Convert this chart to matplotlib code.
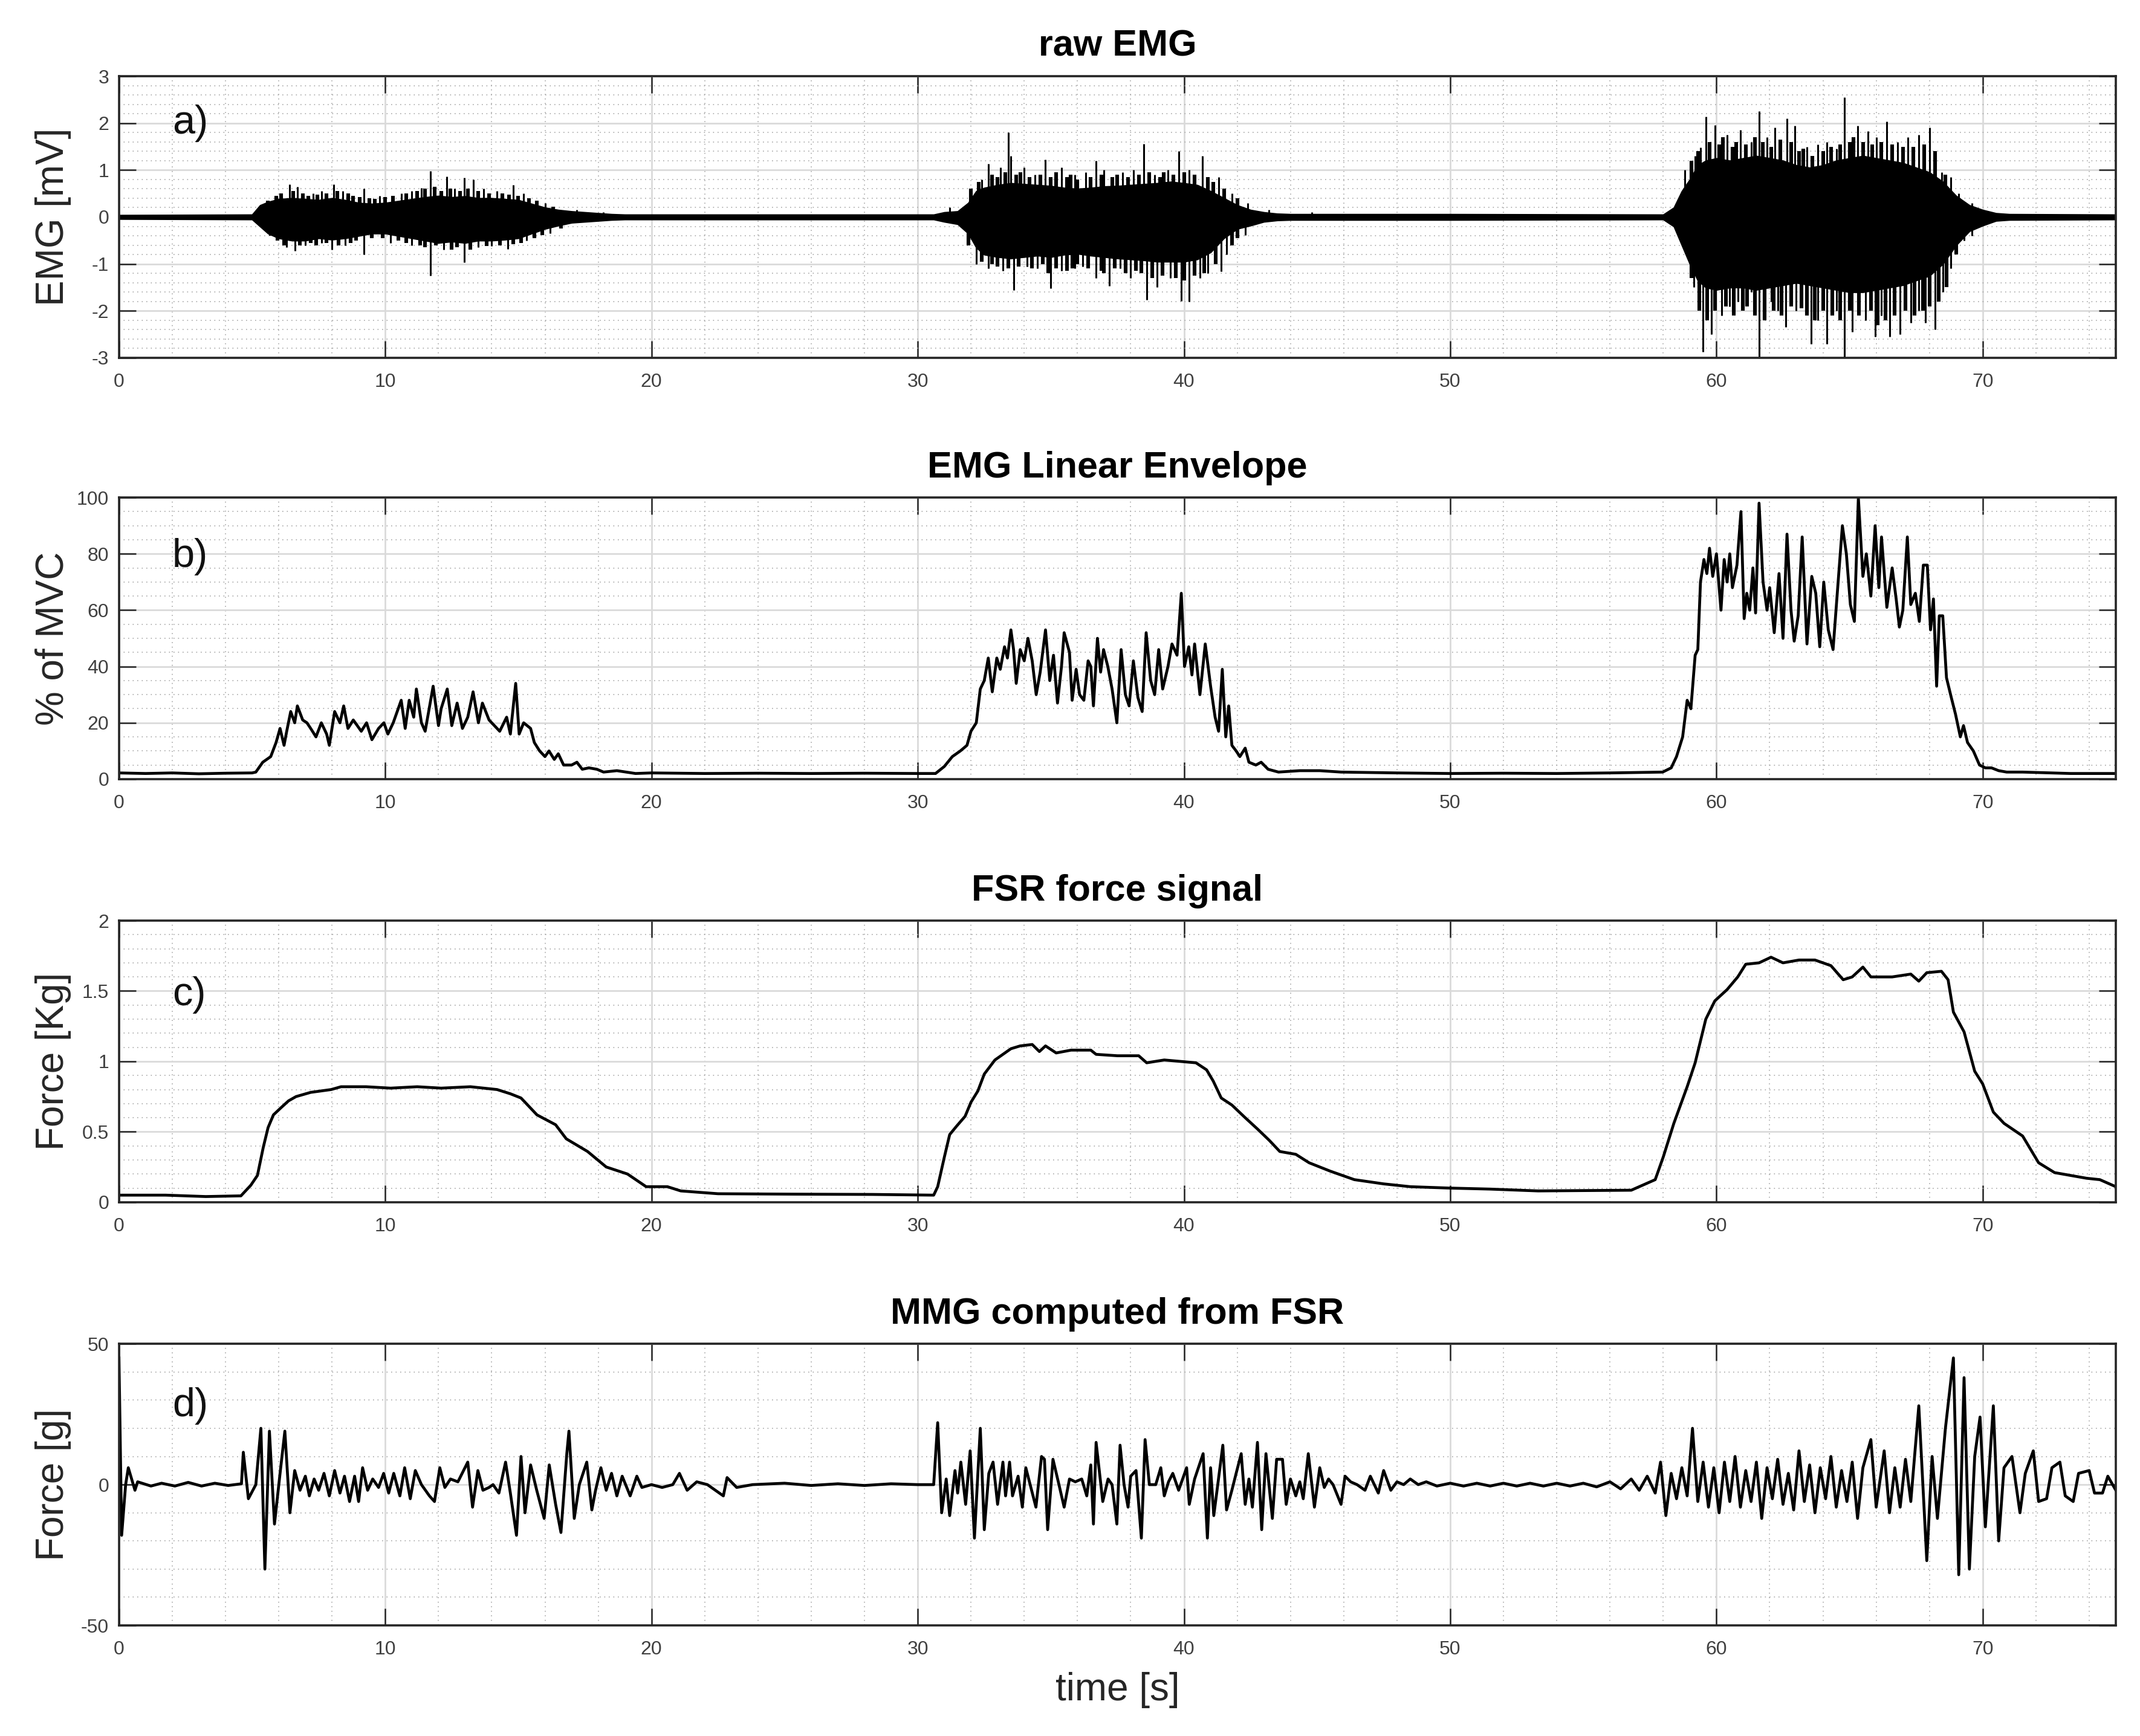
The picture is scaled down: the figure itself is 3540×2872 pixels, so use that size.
import matplotlib
matplotlib.use('Agg')
import matplotlib.pyplot as plt
from matplotlib.ticker import MultipleLocator, FuncFormatter

plt.rcParams['font.family'] = ['Liberation Sans', 'DejaVu Sans']
plt.rcParams['axes.unicode_minus'] = False

# ---- a) raw EMG: dense band (upper / lower excursion) ----
emg_t = [0, 5.0, 5.3, 5.6, 6.0, 6.5, 7.0, 7.5, 8.0, 8.5, 9.0, 9.5, 10.0, 10.5, 11.0,
         11.5, 12.0, 12.5, 13.0, 13.5, 14.0, 14.5, 15.0, 15.5, 16.0, 16.5, 17.0, 17.5,
         18.0, 18.5, 19.0, 25.0, 30.6, 31.0, 31.5, 31.9, 32.2, 32.5, 33.0, 33.5, 34.0,
         34.5, 35.0, 35.5, 36.0, 36.5, 37.0, 37.5, 38.0, 38.5, 39.0, 39.5, 40.0, 40.5,
         41.0, 41.5, 42.0, 42.5, 43.0, 43.5, 44.0, 50.0, 58.0, 58.4, 58.7, 59.0, 59.3,
         59.6, 60.0, 60.5, 61.0, 61.5, 62.0, 62.5, 63.0, 63.5, 64.0, 64.5, 65.0, 65.5,
         66.0, 66.5, 67.0, 67.5, 68.0, 68.5, 69.0, 69.5, 70.0, 70.5, 71.0, 75.0]
emg_up = [0.04, 0.05, 0.25, 0.32, 0.38, 0.40, 0.38, 0.36, 0.40, 0.36, 0.30, 0.28, 0.30,
          0.34, 0.38, 0.42, 0.45, 0.42, 0.44, 0.40, 0.40, 0.38, 0.36, 0.28, 0.20, 0.15,
          0.12, 0.10, 0.08, 0.06, 0.05, 0.05, 0.05, 0.10, 0.12, 0.30, 0.55, 0.62, 0.68,
          0.72, 0.70, 0.68, 0.66, 0.62, 0.60, 0.62, 0.65, 0.66, 0.68, 0.70, 0.72, 0.75,
          0.72, 0.68, 0.55, 0.40, 0.25, 0.15, 0.10, 0.07, 0.06, 0.06, 0.05, 0.20, 0.55,
          0.80, 1.10, 1.20, 1.25, 1.20, 1.25, 1.30, 1.25, 1.20, 1.10, 1.05, 1.10, 1.20,
          1.25, 1.30, 1.25, 1.20, 1.15, 1.05, 0.95, 0.75, 0.45, 0.25, 0.15, 0.08, 0.06, 0.05]
emg_lo = [-0.04, -0.05, -0.20, -0.35, -0.45, -0.50, -0.50, -0.45, -0.48, -0.45, -0.40,
          -0.35, -0.35, -0.40, -0.45, -0.50, -0.55, -0.52, -0.55, -0.50, -0.50, -0.48,
          -0.45, -0.35, -0.25, -0.18, -0.12, -0.10, -0.08, -0.06, -0.05, -0.05, -0.05,
          -0.10, -0.15, -0.35, -0.65, -0.80, -0.85, -0.88, -0.85, -0.82, -0.85, -0.80,
          -0.78, -0.82, -0.85, -0.88, -0.90, -0.92, -0.95, -0.95, -0.95, -0.90, -0.75,
          -0.45, -0.25, -0.18, -0.10, -0.07, -0.06, -0.06, -0.05, -0.20, -0.60, -1.00,
          -1.35, -1.50, -1.55, -1.50, -1.50, -1.55, -1.50, -1.45, -1.40, -1.45, -1.50,
          -1.55, -1.60, -1.60, -1.55, -1.50, -1.45, -1.35, -1.25, -1.00, -0.60, -0.30,
          -0.18, -0.08, -0.06, -0.05]

# tall spikes sticking out of the band
spk_up_t = [6.4, 6.7, 7.3, 7.6, 8.06, 8.4, 9.2, 9.8, 10.6, 11.0, 11.36, 11.7, 12.3, 12.6,
            12.96, 13.3, 13.7, 14.2, 14.8, 15.2, 16.0, 17.2, 18.2,
            31.2, 32.4, 32.66, 33.1, 33.4, 33.5, 34.0, 34.4, 34.8, 35.4, 35.9, 36.3, 36.7,
            37.0, 37.7, 38.1, 38.5, 38.9, 39.4, 39.8, 40.2, 40.7, 41.3, 41.8, 42.4, 43.2,
            44.8, 58.6, 58.8, 59.2, 59.4, 59.6, 59.94, 60.4, 60.9, 61.3, 61.6, 61.9, 62.2,
            62.65, 62.95, 63.4, 63.8, 64.15, 64.5, 64.8, 65.3, 65.7, 66.0, 66.4, 66.8, 67.2,
            67.6, 68.0, 68.45, 68.8, 69.1, 69.6, 70.0]
spk_up_v = [0.70, 0.65, 0.50, 0.55, 0.70, 0.55, 0.60, 0.45, 0.50, 0.55, 0.62, 0.98, 0.86,
            0.60, 0.84, 0.80, 0.60, 0.55, 0.68, 0.50, 0.30, 0.15, 0.10,
            0.20, 0.80, 1.13, 1.05, 1.80, 1.30, 1.05, 0.90, 1.22, 1.05, 0.90, 0.95, 1.20,
            1.00, 0.95, 1.00, 1.56, 0.90, 1.00, 1.40, 1.00, 1.30, 0.85, 0.50, 0.30, 0.15,
            0.10, 0.40, 1.00, 1.30, 1.48, 2.14, 1.96, 1.75, 1.85, 1.60, 2.25, 1.70, 1.90,
            2.10, 1.95, 1.50, 1.55, 1.60, 1.45, 2.55, 1.95, 1.83, 1.70, 2.04, 1.60, 1.70,
            1.75, 1.90, 0.95, 0.85, 0.50, 0.30, 0.15]
spk_dn_t = [6.3, 6.6, 7.0, 7.6, 8.0, 8.5, 9.2, 10.2, 11.0, 11.7, 12.2, 12.96, 13.5, 14.0,
            14.6, 15.3, 16.2,
            32.2, 32.66, 33.2, 33.6, 34.1, 34.5, 35.0, 35.4, 35.9, 36.2, 36.7, 37.2, 37.6,
            38.0, 38.6, 39.0, 39.5, 39.9, 40.2, 40.6, 40.9, 41.4, 41.6, 42.3,
            58.9, 59.15, 59.5, 59.8, 60.2, 60.5, 60.8, 61.3, 61.6, 62.05, 62.3, 62.6, 63.0,
            63.55, 63.8, 64.15, 64.5, 64.8, 65.1, 65.6, 65.96, 66.2, 66.5, 66.9, 67.3, 67.6,
            67.85, 68.2, 68.5, 68.8, 69.3, 69.6]
spk_dn_v = [-0.65, -0.72, -0.60, -0.55, -0.70, -0.60, -0.80, -0.55, -0.60, -1.25, -0.70,
            -0.96, -0.65, -0.62, -0.68, -0.50, -0.35,
            -1.00, -1.09, -1.15, -1.56, -1.05, -1.10, -1.52, -1.15, -1.10, -1.05, -1.30,
            -1.47, -1.10, -1.30, -1.77, -1.50, -1.30, -1.79, -1.80, -1.30, -1.20, -1.16,
            -0.80, -0.38,
            -0.80, -1.49, -2.87, -2.50, -2.10, -1.90, -1.80, -1.60, -2.98, -1.80, -2.00,
            -2.35, -2.00, -2.70, -2.20, -2.70, -2.00, -3.00, -2.45, -2.20, -2.55, -2.10,
            -2.55, -2.50, -2.25, -2.00, -2.25, -2.40, -1.60, -1.10, -0.50, -0.40]

# medium spikes that make the ragged edge of the band
mid_up_t = [5.6, 5.9, 6.1, 6.55, 6.9, 7.1, 7.45, 7.8, 8.2, 8.6, 8.8, 9.05, 9.4, 9.6, 10.0,
            10.3, 10.8, 11.2, 11.5, 11.85, 12.1, 12.45, 12.8, 13.1, 13.5, 13.9, 14.4, 14.65,
            15.0, 15.4, 15.7, 16.3,
            32.0, 32.3, 32.8, 33.0, 33.3, 33.7, 33.85, 34.2, 34.6, 35.0, 35.2, 35.6, 35.75,
            36.0, 36.5, 36.9, 37.3, 37.5, 37.9, 38.3, 38.7, 39.1, 39.25, 39.6, 40.0, 40.4,
            40.9, 41.1, 41.5, 42.0,
            59.05, 59.3, 59.75, 60.1, 60.25, 60.6, 60.75, 61.1, 61.45, 61.75, 62.05, 62.4,
            62.8, 63.1, 63.25, 63.6, 64.0, 64.3, 64.65, 65.0, 65.15, 65.5, 65.85, 66.2,
            66.6, 67.0, 67.4, 67.8, 68.2, 68.6]
mid_up_v = [0.35, 0.45, 0.50, 0.55, 0.50, 0.45, 0.48, 0.50, 0.55, 0.50, 0.45, 0.42, 0.40,
            0.38, 0.42, 0.45, 0.50, 0.55, 0.60, 0.65, 0.55, 0.60, 0.55, 0.60, 0.55, 0.50,
            0.50, 0.48, 0.45, 0.40, 0.35, 0.22,
            0.60, 0.75, 0.90, 0.85, 0.95, 0.90, 0.95, 0.85, 0.90, 0.85, 0.95, 0.85, 0.90,
            0.80, 0.85, 0.90, 0.85, 0.90, 0.85, 0.90, 0.95, 0.85, 0.95, 0.90, 0.95, 0.90,
            0.85, 0.75, 0.60, 0.40,
            1.20, 1.40, 1.60, 1.55, 1.70, 1.50, 1.60, 1.55, 1.70, 1.60, 1.50, 1.65, 1.60,
            1.40, 1.45, 1.30, 1.40, 1.50, 1.55, 1.60, 1.70, 1.60, 1.55, 1.60, 1.55, 1.50,
            1.50, 1.55, 1.40, 0.90]
mid_dn_t = [5.7, 5.95, 6.2, 6.8, 7.2, 7.4, 7.8, 8.25, 8.7, 8.9, 9.5, 9.9, 10.5, 10.8, 11.3,
            11.5, 11.9, 12.5, 12.7, 13.2, 13.8, 14.3, 14.8, 15.1, 15.6, 15.9, 16.6,
            31.9, 32.4, 32.8, 33.0, 33.4, 33.8, 34.3, 34.7, 34.9, 35.2, 35.6, 35.8, 36.0,
            36.4, 36.9, 37.0, 37.4, 37.8, 38.2, 38.4, 38.8, 39.2, 39.7, 40.0, 40.4, 40.75,
            41.2, 41.8, 42.0,
            59.05, 59.35, 59.65, 59.95, 60.35, 60.65, 61.0, 61.15, 61.45, 61.8, 62.15,
            62.45, 62.8, 63.2, 63.4, 63.7, 64.0, 64.35, 64.65, 65.0, 65.35, 65.8, 66.05,
            66.35, 66.7, 67.1, 67.45, 67.75, 68.0, 68.35, 68.65, 69.0]
mid_dn_v = [-0.40, -0.50, -0.60, -0.60, -0.55, -0.60, -0.55, -0.60, -0.55, -0.50, -0.45,
            -0.45, -0.50, -0.55, -0.60, -0.65, -0.60, -0.70, -0.65, -0.70, -0.62, -0.60,
            -0.58, -0.55, -0.45, -0.38, -0.25,
            -0.60, -0.95, -1.00, -1.05, -1.10, -1.05, -1.10, -1.00, -1.20, -1.10, -1.15,
            -1.10, -1.00, -1.10, -1.15, -1.20, -1.10, -1.20, -1.15, -1.20, -1.30, -1.25,
            -1.30, -1.35, -1.25, -1.20, -1.00, -0.60, -0.45,
            -1.30, -2.00, -2.20, -2.00, -1.90, -2.10, -2.00, -1.90, -2.10, -2.20, -2.00,
            -2.10, -1.90, -1.95, -2.10, -2.20, -2.00, -2.10, -2.20, -2.00, -2.10, -2.00,
            -2.30, -2.20, -2.10, -2.00, -2.10, -2.00, -1.90, -1.80, -1.50, -0.80]

# ---- b) EMG linear envelope [% of MVC] ----
env_t = [0, 1, 2, 3, 4, 5.0, 5.14, 5.4, 5.7, 5.9, 6.05, 6.2, 6.3, 6.45, 6.6, 6.7, 6.9,
         7.06, 7.2, 7.4, 7.6, 7.8, 7.9, 8.1, 8.3, 8.44, 8.6, 8.8, 9.1, 9.3, 9.5, 9.75, 9.95,
         10.1, 10.3, 10.6, 10.75, 10.9, 11.07, 11.17, 11.36, 11.5, 11.8, 12.0, 12.1, 12.33,
         12.5, 12.7, 12.9, 13.1, 13.3, 13.5, 13.65, 13.9, 14.1, 14.3, 14.56, 14.7, 14.9,
         15.03, 15.2, 15.46, 15.6, 15.8, 16.0, 16.15, 16.35, 16.5, 16.7, 17.0, 17.2, 17.4,
         17.65, 17.95, 18.2, 18.7, 19.4, 20, 22, 24, 26, 28, 30, 30.67, 31.0, 31.3, 31.6,
         31.85, 32.0, 32.2, 32.35, 32.5, 32.65, 32.8, 32.97, 33.1, 33.26, 33.37, 33.5, 33.6,
         33.7, 33.85, 34.0, 34.14, 34.3, 34.45, 34.6, 34.8, 34.96, 35.1, 35.25, 35.4, 35.5,
         35.7, 35.8, 35.95, 36.08, 36.24, 36.4, 36.5, 36.6, 36.75, 36.87, 36.98, 37.14,
         37.3, 37.48, 37.64, 37.8, 37.94, 38.1, 38.27, 38.43, 38.58, 38.75, 38.9, 39.05,
         39.2, 39.4, 39.55, 39.74, 39.9, 40.02, 40.18, 40.3, 40.4, 40.6, 40.8, 41.0, 41.17,
         41.3, 41.44, 41.57, 41.68, 41.8, 41.96, 42.1, 42.3, 42.44, 42.7, 42.9, 43.16,
         43.55, 44.35, 45.1, 45.9, 48, 50, 52, 54, 56, 57.98, 58.3, 58.5, 58.73, 58.9,
         59.04, 59.2, 59.3, 59.4, 59.53, 59.64, 59.74, 59.86, 60.0, 60.17, 60.29, 60.4,
         60.5, 60.6, 60.77, 60.92, 61.04, 61.14, 61.25, 61.37, 61.47, 61.6, 61.75, 61.9,
         62.0, 62.17, 62.35, 62.5, 62.65, 62.8, 62.92, 63.07, 63.22, 63.4, 63.58, 63.73,
         63.88, 64.03, 64.2, 64.38, 64.53, 64.73, 64.88, 65.03, 65.18, 65.33, 65.5, 65.63,
         65.8, 65.96, 66.1, 66.2, 66.4, 66.6, 66.75, 66.87, 67.0, 67.17, 67.3, 67.47,
         67.62, 67.77, 67.92, 68.04, 68.15, 68.27, 68.37, 68.5, 68.64, 68.82, 68.98, 69.16,
         69.28, 69.43, 69.65, 69.88, 70.1, 70.33, 70.6, 70.9, 71.5, 73.3, 75]
env_v = [2.2, 2.0, 2.2, 1.9, 2.1, 2.2, 2.5, 6, 8, 13, 18, 12, 17, 24, 20, 26, 21,
         20, 18, 15, 20, 16, 12, 24, 20, 26, 18, 21, 17, 20, 14, 18, 20,
         16, 20, 28, 18, 28, 22, 32, 20, 17, 33, 19, 25, 32,
         19, 27, 18, 22, 31, 20, 27, 21, 19, 17, 22, 16, 34,
         16, 20, 18, 13, 10, 8, 10, 7, 9, 5, 5, 6, 3.5,
         4, 3.5, 2.5, 3, 2, 2.2, 2.0, 2.1, 2.0, 2.1, 2.0, 2.0, 4.5, 8, 10,
         12, 17, 20, 32, 35, 43, 31, 43, 39, 47, 43, 53, 46,
         34, 46, 42, 50, 42, 30, 38, 53, 35, 44, 27, 40, 52,
         45, 28, 39, 30, 28, 42, 40, 26, 50, 38, 46, 40,
         32, 20, 46, 30, 26, 42, 29, 24, 52, 35, 30, 46,
         32, 40, 48, 44, 66, 40, 47, 37, 48, 30, 48, 33, 22,
         17, 39, 15, 26, 12, 10, 8, 11, 6, 5, 6, 3.5,
         2.5, 3, 3, 2.5, 2.2, 2.0, 2.1, 2.0, 2.2, 2.5, 4, 8, 15, 28,
         25, 44, 46, 70, 78, 73, 82, 72, 80, 60, 78, 70,
         80, 68, 76, 95, 57, 66, 60, 75, 59, 98, 70, 60,
         68, 52, 73, 50, 87, 60, 49, 58, 86, 48, 72, 66,
         47, 70, 53, 46, 65, 90, 80, 62, 56, 100, 72, 80,
         65, 90, 68, 86, 61, 75, 64, 54, 60, 86, 62, 66,
         56, 76, 76, 53, 64, 33, 58, 58, 36, 29, 23, 15,
         19, 13, 10, 5, 4, 4, 3, 2.5, 2.5, 2.0, 2.0]

# ---- c) FSR force signal [Kg] ----
force_t = [0, 1.75, 3.26, 4.58, 4.95, 5.2, 5.42, 5.6, 5.8, 6.08, 6.37, 6.65, 7.2, 7.97,
           8.34, 9.28, 10.2, 11.2, 12.1, 13.2, 14.2, 14.7, 15.1, 15.7, 16.4, 16.8, 17.6,
           18.3, 19.1, 19.8, 20.6, 21.1, 22.5, 25.3, 28.3, 30.6, 30.75, 31.0, 31.2, 31.46,
           31.78, 32.0, 32.26, 32.5, 32.9, 33.2, 33.5, 33.85, 34.3, 34.57, 34.8, 35.2,
           35.76, 36.5, 36.7, 37.5, 38.3, 38.6, 39.26, 40.45, 40.85, 41.1, 41.4, 41.8,
           42.3, 42.76, 43.2, 43.6, 44.2, 44.7, 45.5, 46.4, 47.5, 48.5, 50.0, 51.5, 53.3,
           56.8, 57.1, 57.7, 58.0, 58.4, 58.9, 59.2, 59.6, 59.94, 60.4, 60.8, 61.1, 61.6,
           62.05, 62.5, 63.1, 63.7, 64.3, 64.76, 65.1, 65.5, 65.8, 66.6, 67.3, 67.6, 67.9,
           68.45, 68.7, 68.9, 69.3, 69.7, 70.0, 70.4, 70.8, 71.5, 72.1, 72.7, 73.3, 73.9,
           74.4, 75.0]
force_v = [0.05, 0.05, 0.04, 0.045, 0.12, 0.19, 0.39, 0.53, 0.62, 0.67, 0.72, 0.75, 0.78,
           0.80, 0.82, 0.82, 0.81, 0.82, 0.81, 0.82, 0.80, 0.77, 0.74, 0.62, 0.55, 0.45,
           0.36, 0.25, 0.20, 0.11, 0.11, 0.08, 0.06, 0.057, 0.055, 0.05, 0.11, 0.32, 0.48,
           0.54, 0.61, 0.71, 0.79, 0.91, 1.01, 1.05, 1.09, 1.11, 1.12, 1.07, 1.11, 1.06,
           1.08, 1.08, 1.05, 1.04, 1.04, 0.99, 1.01, 0.99, 0.94, 0.86, 0.74, 0.69,
           0.60, 0.52, 0.44, 0.36, 0.34, 0.28, 0.22, 0.16, 0.13, 0.11, 0.10, 0.093, 0.08,
           0.085, 0.11, 0.16, 0.32, 0.56, 0.82, 0.99, 1.30, 1.43, 1.51, 1.60, 1.69, 1.70,
           1.74, 1.70, 1.72, 1.72, 1.68, 1.58, 1.60, 1.67, 1.60, 1.60, 1.62, 1.57, 1.63,
           1.64, 1.58, 1.35, 1.21, 0.93, 0.84, 0.64, 0.56, 0.47, 0.28, 0.21, 0.19, 0.17,
           0.16, 0.11]

# ---- d) MMG computed from FSR [g] ----
mmg_t = [0, 0.1, 0.25, 0.35, 0.6, 0.7, 1.2, 1.6, 2.1, 2.6, 3.1, 3.6, 4.1, 4.6, 4.67, 4.86,
         5.14, 5.33, 5.48, 5.65, 5.84, 6.05, 6.23, 6.42, 6.6, 6.8, 7.0, 7.15, 7.33, 7.5,
         7.7, 7.9, 8.1, 8.3, 8.47, 8.66, 8.85, 9.0, 9.15, 9.34, 9.53, 9.75, 9.94, 10.13,
         10.32, 10.55, 10.73, 10.94, 11.13, 11.36, 11.66, 11.85, 12.05, 12.24, 12.45,
         12.73, 13.1, 13.28, 13.48, 13.67, 13.9, 14.05, 14.27, 14.52, 14.7, 14.93, 15.1,
         15.25, 15.46, 15.69, 15.97, 16.16, 16.4, 16.6, 16.82, 16.9, 17.1, 17.29, 17.57,
         17.76, 17.9, 18.1, 18.3, 18.5, 18.7, 18.9, 19.2, 19.45, 19.64, 20.0, 20.4, 20.8,
         21.05, 21.34, 21.7, 22.1, 22.7, 22.84, 23.2, 23.8, 25.0, 26.0, 27.0, 28.0, 29.0,
         30.0, 30.6, 30.75, 30.9, 31.07, 31.2, 31.4, 31.5, 31.62, 31.8, 31.97, 32.13,
         32.35, 32.5, 32.67, 32.83, 33.0, 33.2, 33.3, 33.45, 33.56, 33.77, 33.93, 34.06,
         34.25, 34.44, 34.65, 34.76, 34.88, 35.08, 35.28, 35.5, 35.7, 35.92, 36.16, 36.35,
         36.5, 36.6, 36.7, 36.95, 37.15, 37.3, 37.48, 37.6, 37.75, 37.9, 38.0, 38.2, 38.4,
         38.54, 38.7, 38.94, 39.13, 39.26, 39.42, 39.58, 39.8, 40.1, 40.2, 40.4, 40.72,
         40.88, 41.0, 41.12, 41.27, 41.46, 41.6, 41.8, 41.96, 42.15, 42.3, 42.44, 42.57,
         42.76, 42.92, 43.08, 43.32, 43.48, 43.7, 43.84, 44.0, 44.2, 44.35, 44.48, 44.67,
         44.9, 45.1, 45.27, 45.43, 45.6, 45.9, 46.05, 46.26, 46.5, 46.8, 47.0, 47.2, 47.3,
         47.5, 47.77, 48.0, 48.25, 48.5, 48.8, 49.1, 49.5, 50.0, 50.5, 51.0, 51.5, 52.0,
         52.5, 53.0, 53.5, 54.0, 54.5, 55.0, 55.5, 56.0, 56.4, 56.8, 57.1, 57.4, 57.7,
         57.9, 58.1, 58.3, 58.5, 58.7, 58.9, 59.1, 59.3, 59.5, 59.7, 59.9, 60.1, 60.3,
         60.5, 60.7, 60.9, 61.1, 61.3, 61.5, 61.7, 61.9, 62.1, 62.3, 62.5, 62.7, 62.9,
         63.1, 63.3, 63.5, 63.7, 63.9, 64.1, 64.3, 64.5, 64.7, 64.9, 65.1, 65.3, 65.5,
         65.8, 66.0, 66.3, 66.5, 66.7, 66.9, 67.1, 67.3, 67.6, 67.9, 68.1, 68.3, 68.6,
         68.9, 69.1, 69.3, 69.5, 69.7, 69.9, 70.1, 70.4, 70.6, 70.8, 71.1, 71.4, 71.6,
         71.9, 72.1, 72.4, 72.6, 72.9, 73.1, 73.4, 73.6, 74.0, 74.2, 74.5, 74.7, 75.0]
mmg_v = [45, -18, 0, 6, -2, 1, -0.5, 0.5, -0.5, 0.8, -0.5, 0.5, -0.3, 0.3, 11.5, -5,
         0, 20, -30, 19, -14, 4, 19, -10, 5, -2, 3, -4, 2, -2,
         4, -4, 5, -3, 3, -6, 3, -6, 6, -2, 2, -1, 4, -3,
         4, -4, 6, -5, 5, 0, -4, -6, 6, -1, 2,
         1, 8, -8, 5, -2, -1, 0, -3, 8, -3, -18, 10,
         -10, 7, -2, -12, 7, -7, -17, 11, 19, -12, 0, 8,
         -9, -2, 6, -2, 4, -4, 3, -4, 3, -1, 0, -1, 0,
         4, -2, 1, 0, -4, 2.5, -1, 0, 0.5, -0.3, 0.3, -0.3, 0.3,
         0, 0, 22, -10, 2, -11, 5, -3, 8, -7, 12, -19,
         20, -16, 4, 8, -7, 8, -4, 8, -4, 3, -8, 6,
         -1, -8, 10, 9, -16, 9, 1, -8, 2, 1, 2, -4,
         7, -14, 15, -6, 2, 0, -14, 14, 0, -8, 3, 5, -19,
         16, 0, 0, 6, -4, 1, 4, -2, 6, -7, 2, 11,
         -19, 6, -11, 0, 14, -9, -2, 4, 11, -7, 2, -8,
         15, -16, 11, -12, 9, 9, -7, 2, -4, 1, -5, 11,
         -8, 6, -1, 2, 0, -7, 3, 1, 0, -2, 3, -1, -3,
         5, -2, 1, 0, 2, 0, 1, -0.5, 0.5, -0.5, 0.5, -0.5, 0.5,
         -0.5, 0.5, -0.5, 0.5, -0.5, 0.5, -0.8, 1, -1.5, 2, -2, 3, -3,
         8, -11, 4, -5, 6, -4, 20, -6, 8, -8, 6, -10, 8,
         -6, 10, -8, 5, -6, 8, -12, 6, -5, 9, -7, 4, -9,
         12, -6, 7, -10, 6, -5, 10, -8, 5, -6, 8, -12, 6,
         16, -8, 12, -10, 6, -8, 9, -6, 28, -27, 10, -12, 20,
         45, -32, 38, -30, 10, 24, -15, 28, -20, 6, 10, -10, 4,
         12, -6, -5, 6, 8, -4, -6, 4, 5, -3, -3, 3, -2]

fig = plt.figure(figsize=(17.7, 14.36), dpi=200)

left, width, height = 0.0556, 0.9331, 0.1622
bottoms = [0.7939, 0.5512, 0.3075, 0.0637]
titles = ['raw EMG', 'EMG Linear Envelope', 'FSR force signal', 'MMG computed from FSR']
ylabels = ['EMG [mV]', '% of MVC', 'Force [Kg]', 'Force [g]']
letters = ['a)', 'b)', 'c)', 'd)']
ylims = [(-3, 3), (0, 100), (0, 2), (-50, 50)]
ymajor = [1, 20, 0.5, 50]
yminor = [0.2, 5, 0.1, 10]
letter_y = [2.0, 79, 1.47, 28]

matlab_fmt = FuncFormatter(lambda v, pos: '%g' % round(v, 6))

axes = []
for i in range(4):
    ax = fig.add_axes([left, bottoms[i], width, height])
    axes.append(ax)
    ax.set_xlim(0, 75)
    ax.set_ylim(*ylims[i])
    ax.xaxis.set_major_locator(MultipleLocator(10))
    ax.xaxis.set_minor_locator(MultipleLocator(2))
    ax.yaxis.set_major_locator(MultipleLocator(ymajor[i]))
    ax.yaxis.set_minor_locator(MultipleLocator(yminor[i]))
    ax.yaxis.set_major_formatter(matlab_fmt)
    ax.xaxis.set_major_formatter(matlab_fmt)
    ax.set_axisbelow(True)
    ax.grid(which='major', color='#dadada', lw=1.0, ls='-')
    ax.grid(which='minor', color='#a8a8a8', lw=0.6, ls=(0, (1, 3.5)))
    ax.tick_params(which='major', direction='in', length=10, width=0.9,
                   top=True, right=True, labelsize=11.5, labelcolor='#404040',
                   color='#262626')
    ax.tick_params(axis='x', which='major', pad=9)
    ax.tick_params(axis='y', which='major', pad=6)
    ax.tick_params(which='minor', length=0)
    for s in ax.spines.values():
        s.set_linewidth(1.3)
        s.set_color('#262626')
    ax.set_title(titles[i], fontsize=22, fontweight='bold', pad=12)
    ax.set_ylabel(ylabels[i], fontsize=23, color='#262626')
    ax.yaxis.set_label_coords(-0.024, 0.5)
    ax.text(2.0, letter_y[i], letters[i], fontsize=24, ha='left', va='center',
            color='#111111')

# a) raw EMG
ax = axes[0]
ax.fill_between(emg_t, emg_lo, emg_up, color='black', lw=0.8, edgecolor='black')
ax.vlines(mid_up_t, 0, mid_up_v, color='black', lw=2.2)
ax.vlines(mid_dn_t, 0, mid_dn_v, color='black', lw=2.2)
ax.vlines(spk_up_t, 0, spk_up_v, color='black', lw=1.1)
ax.vlines(spk_dn_t, 0, spk_dn_v, color='black', lw=1.1)

# b) envelope
axes[1].plot(env_t, env_v, color='black', lw=1.7)

# c) force
axes[2].plot(force_t, force_v, color='black', lw=1.7)

# d) MMG
axes[3].plot(mmg_t, mmg_v, color='black', lw=1.7)
axes[3].set_xlabel('time [s]', fontsize=23, color='#262626')
axes[3].xaxis.set_label_coords(0.5, -0.165)

fig.savefig('out.png', dpi=200, facecolor='white')
